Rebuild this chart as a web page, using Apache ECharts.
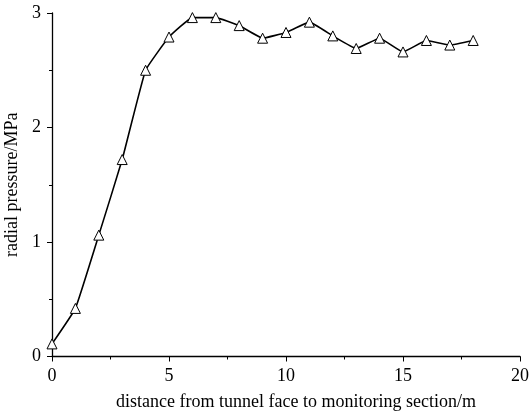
<!DOCTYPE html>
<html><head><meta charset="utf-8">
<script src="https://cdn.jsdelivr.net/npm/echarts@6/dist/echarts.min.js"></script>
<style>html,body{margin:0;padding:0;background:#fff}#c{width:530px;height:412px}</style>
</head><body><div id="c"></div>
<script>
const xValues = [0,1,2,3,4,5,6,7,8,9,10,11,12,13,14,15,16,17,18];
const pressure = [0.11,0.42,1.06,1.72,2.50,2.79,2.96,2.96,2.89,2.78,2.83,2.92,2.80,2.69,2.78,2.66,2.76,2.72,2.76];
const xTitle = 'distance from tunnel face to monitoring section/m';
const yTitle = 'radial pressure/MPa';

const font = 'Liberation Serif';
const chart = echarts.init(document.getElementById('c'), null, {renderer:'canvas'});
chart.setOption({
  animation:false,
  backgroundColor:'#fff',
  grid:{left:52,right:10,top:13,bottom:55.5,containLabel:false,outerBoundsMode:'none'},
  xAxis:{
    type:'value',min:0,max:20,interval:5,
    name:xTitle,nameLocation:'middle',nameGap:37,
    nameTextStyle:{fontFamily:font,fontSize:18,color:'#000',padding:[0,0,0,20]},
    axisLine:{show:true,lineStyle:{color:'#000',width:1.3}},
    axisTick:{show:true,inside:false,length:5,lineStyle:{color:'#000'}},
    minorTick:{show:true,splitNumber:2,length:3,lineStyle:{color:'#000'}},
    axisLabel:{fontFamily:font,fontSize:18,color:'#000',margin:11},
    splitLine:{show:false}
  },
  yAxis:{
    type:'value',min:0,max:3,interval:1,
    name:yTitle,nameLocation:'middle',nameGap:27,nameRotate:90,
    nameTextStyle:{fontFamily:font,fontSize:18,color:'#000'},
    axisLine:{show:true,lineStyle:{color:'#000',width:1.3}},
    axisTick:{show:true,inside:false,length:5,lineStyle:{color:'#000'}},
    minorTick:{show:true,splitNumber:2,length:3,lineStyle:{color:'#000'}},
    axisLabel:{fontFamily:font,fontSize:18,color:'#000',margin:11},
    splitLine:{show:false}
  },
  series:[{
    type:'line',
    data:xValues.map((x,i)=>[x,pressure[i]]),
    smooth:0.1,
    symbol:'triangle',symbolSize:10,
    lineStyle:{color:'#000',width:1.6},
    itemStyle:{color:'#fff',borderColor:'#000',borderWidth:1}
  }]
});
</script></body></html>
